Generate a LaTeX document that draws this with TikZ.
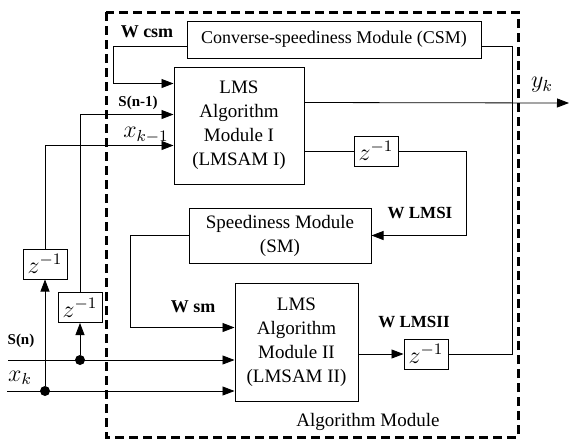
\documentclass[tikz,border=0pt]{standalone}
\usepackage{fontspec}
\setmainfont{Liberation Serif}
\usetikzlibrary{arrows.meta, calc}

\begin{document}
\begin{tikzpicture}[
    x=0.5pt, y=-0.5pt,
    font=\fontsize{9.5}{12}\selectfont,
    box/.style={draw, line width=0.5pt, align=center, inner sep=0pt},
    delay/.style={box, minimum width=22pt, minimum height=15pt, font=\fontsize{12}{12}\selectfont},
    lbl/.style={font=\fontsize{8.5}{10}\selectfont\bfseries},
    mlbl/.style={font=\fontsize{12}{12}\selectfont},
    dot/.style={circle, fill, inner sep=0pt, minimum size=5pt},
    arr/.style={-{Triangle[length=6pt,width=4.5pt]}},
    frame/.style={draw, line width=1.5pt, dash pattern=on 4.5pt off 2.5pt}
]
    \useasboundingbox (0,0) rectangle (569,441);

    % Modules
    \node[box, minimum width=147pt, minimum height=18.5pt, font=\fontsize{9}{11}\selectfont] (csm) at (334,39.5) {Converse-speediness Module (CSM)};
    \node[box, minimum width=65pt, minimum height=58.5pt] (lmsI) at (239,125.5) {LMS\\Algorithm\\Module I\\(LMSAM I)};
    \node[box, minimum width=91pt, minimum height=27.5pt] (sm) at (280,235.5) {Speediness Module\\(SM)};
    \node[box, minimum width=61.5pt, minimum height=59pt] (lmsII) at (296.5,342) {LMS\\Algorithm\\Module II\\(LMSAM II)};

    % Delay elements
    \node[delay] (zI) at (376,151) {$z^{-1}$};
    \node[delay] (zII) at (426,354) {$z^{-1}$};
    \node[delay] (zx) at (45,264) {$z^{-1}$};
    \node[delay] (zs) at (80,307.5) {$z^{-1}$};

    % Inputs and output
    \coordinate (sn) at (8,360);
    \coordinate (xk) at (7,391);
    \coordinate (yout) at (569,103);
    \node[dot] (dotx) at (45,391) {};
    \node[dot] (dots) at (80,360) {};

    % Feedback between the modules
    \draw[arr] ([yshift=-3.25pt]csm.west) -- ++(-36.5pt,0) |- ([yshift=-8.5pt]lmsI.north west);
    \draw[arr] ([yshift=-18pt]lmsI.north east) -- (yout);
    \draw (lmsI.east |- zI.west) -- (zI.west);
    \draw[arr] (zI.east) -- ++(34pt,0) |- (sm.east);
    \draw[arr] (sm.west) -- ++(-29pt,0) |- ([yshift=-22.5pt]lmsII.north west);
    \draw[arr] (lmsII.east |- zII.west) -- (zII.west);
    \draw (zII.east) -- ++(32pt,0) |- ([yshift=-3.25pt]csm.east);

    % Input lines and delayed inputs
    \draw[arr] (sn) -- (sn -| lmsII.west);
    \draw[arr] (xk) -- (xk -| lmsII.west);
    \draw[arr] (dotx) -- (zx.south);
    \draw[arr] (dots) -- (zs.south);
    \draw[arr] (zx.north) |- ([yshift=-39.5pt]lmsI.north west);
    \draw[arr] (zs.north) |- ([yshift=-24pt]lmsI.north west);

    % Labels
    \node[lbl, font=\fontsize{9}{10}\selectfont\bfseries] (lwcsm) at (147,32) {W csm};
    \node[lbl, font=\fontsize{7.5}{9}\selectfont\bfseries] (lsn1) at (138,103) {S(n-1)};
    \node[mlbl] (lxk1) at (146,135) {$x_{k-1}$};
    \node[lbl, font=\fontsize{9}{10}\selectfont\bfseries] (lwsm) at (193,307) {W sm};
    \node[lbl, font=\fontsize{7.5}{9}\selectfont\bfseries] (lsn) at (21,341) {S(n)};
    \node[mlbl] (lxk) at (20,378) {$x_k$};
    \node[mlbl] (lyk) at (542,85) {$y_k$};
    \node[lbl] (lwlmsI) at (420,213) {W LMSI};
    \node[lbl] (lwlmsII) at (414,322) {W LMSII};

    % Algorithm module frame
    \draw[frame] (106,12) rectangle (518,437);
    \node (lalg) at (368,422) {Algorithm Module};

\end{tikzpicture}
\end{document}
